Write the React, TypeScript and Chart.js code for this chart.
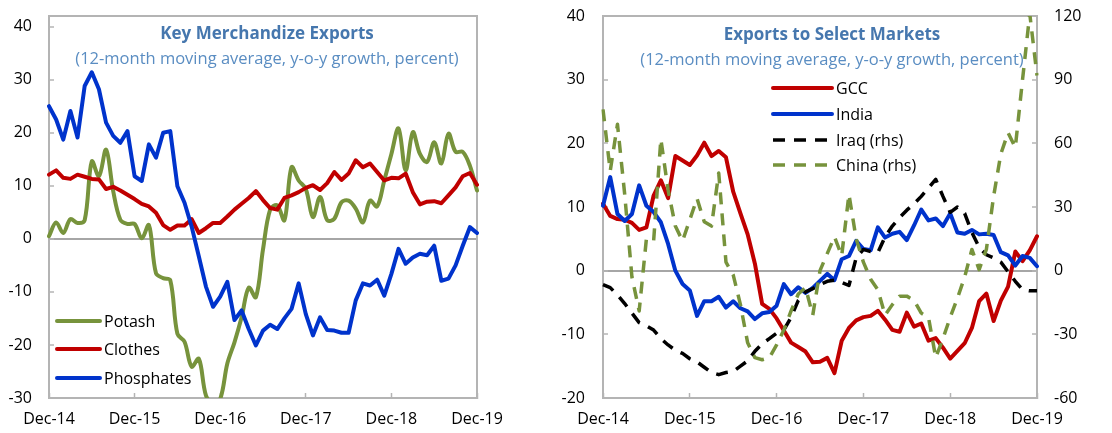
import React, { useEffect, useRef } from 'react';
import { Chart, registerables } from 'chart.js';

Chart.register(...registerables);

// ---------- categories ----------
const YEARS = ['15', '16', '17', '18', '19'];
const MONTH_NAMES = ['Jan', 'Feb', 'Mar', 'Apr', 'May', 'Jun', 'Jul', 'Aug', 'Sep', 'Oct', 'Nov', 'Dec'];
const MONTHS: string[] = ['Dec-14'];
YEARS.forEach((y) => MONTH_NAMES.forEach((m) => MONTHS.push(`${m}-${y}`)));

// ---------- left panel: Key Merchandize Exports ----------
const POTASH = [
  0.5, 3.1, 1.1, 3.7, 3.0, 3.5, 14.6, 11.8, 16.8, 9.0,
  3.6, 2.8, 2.8, 0.1, 2.6, -6.5, -7.4, -7.8, -17.9, -19.4,
  -24.1, -22.6, -29.5, -31, -30.2, -23.5, -19.5, -14.8, -9.2, -11,
  -2, 5.5, 6.3, 3.5, 13.5, 11, 9.4, 4.1, 7.9, 3.5,
  3.8, 6.9, 7.2, 5.7, 3.1, 7.2, 6.1, 11, 16, 20.8,
  12.9, 20.1, 16, 14.5, 18.2, 14.2, 19.8, 16.4, 16.4, 13.8, 9.1,
];
const CLOTHES = [
  12.1, 12.9, 11.5, 11.3, 12.1, 11.7, 11.3, 11.2, 9.4, 9.8,
  9.1, 8.3, 7.5, 6.6, 6.1, 4.9, 2.6, 1.7, 2.5, 2.5,
  3.7, 1.1, 2.0, 3.0, 3.0, 4.2, 5.5, 6.6, 7.7, 9.0,
  7.3, 5.8, 5.5, 7.7, 8.2, 8.8, 9.6, 10.1, 9.2, 10.5,
  12.6, 11.1, 12.3, 14.8, 13.5, 14.2, 12.6, 11.0, 11.5, 11.4,
  12.3, 8.8, 6.5, 7.0, 7.1, 6.7, 8.2, 9.7, 11.8, 12.4, 10.2,
];
const PHOSPHATES = [
  25, 22.5, 18.7, 24.1, 19.1, 28.8, 31.4, 28.2, 21.9, 19.4,
  18.1, 20.3, 11.8, 10.9, 17.8, 15.3, 20.0, 20.3, 9.9, 6.8,
  2.3, -3.3, -9.0, -12.8, -10.9, -8.1, -15.3, -13.5, -17, -20.1,
  -17.3, -16.2, -17, -15, -13.2, -8.4, -14.2, -18.2, -14.8, -17.2,
  -17.3, -17.7, -17.7, -11.6, -8.4, -8.8, -7.7, -10.7, -6.6, -1.9,
  -4.7, -3.5, -2.8, -3.1, -1.3, -7.9, -7.5, -5, -1.3, 2.2, 1.1,
];

// ---------- right panel: Exports to Select Markets ----------
const GCC = [
  10.5, 8.6, 8.1, 8.0, 7.5, 6.4, 6.8, 11.8, 14.2, 11.4,
  18.0, 17.3, 16.6, 18.1, 20.1, 18.0, 18.8, 17.8, 12.4, 9.0,
  5.7, 1.1, -5.2, -6.0, -7.5, -9.4, -11.3, -12.0, -12.7, -14.4,
  -14.3, -13.7, -16.1, -11.0, -9.0, -7.8, -7.3, -7.1, -6.3, -7.7,
  -9.3, -9.6, -6.6, -8.8, -8.3, -11.0, -10.6, -12.1, -13.8, -12.6,
  -11.4, -9.0, -4.8, -3.6, -7.9, -4.7, -2.5, 3.0, 1.5, 3.2, 5.4,
];
const INDIA = [
  10.2, 14.7, 8.9, 7.8, 8.9, 13.4, 10.2, 9.2, 7.6, 4.2,
  0.0, -2.1, -3.1, -7.1, -4.8, -4.8, -4.1, -5.8, -4.8, -5.9,
  -6.4, -7.6, -6.7, -6.5, -5.5, -2.1, -3.7, -2.6, -3.5, -2.7,
  -1.6, -0.5, -1.5, 1.8, 2.3, 4.7, 3.4, 3.2, 6.8, 5.2,
  5.8, 6.1, 4.8, 7.1, 9.6, 7.9, 8.2, 7.0, 9.0, 6.0,
  5.8, 6.4, 5.7, 5.8, 5.6, 2.9, 2.4, 0.8, 2.3, 2.0, 0.7,
];
const IRAQ = [
  -6.6, -8, -11.5, -15.5, -20, -24.5, -26, -28, -32, -35,
  -37.5, -39, -41.5, -43, -45.5, -48, -49, -48, -47.5, -45,
  -42.5, -38, -34.5, -32, -29.5, -28, -22, -14, -10, -8.5,
  -6.5, -5, -4.5, -5.5, -7, 6, 10, 9, 8.5, 16,
  21, 25, 28.5, 31.5, 35, 39, 43, 35, 27.5, 30,
  27, 18, 11, 7.5, 6, 4, -0.5, -5, -9, -9.5, -9.5,
];
const CHINA = [
  76, 47, 69, 36, -3, -19, 15, 14, 62, 38,
  21, 14, 24, 34, 23, 21, 46, 4, -2, -16,
  -34, -41, -42, -41, -35, -28, -19, -11, -8, -21,
  0, 8, 16, 7, 36, 15, 4, -4, -9, -21,
  -16, -12, -12, -14, -20, -22, -41, -32, -22, -13,
  -3, 10, 0.5, 10, 35, 55, 65, 58, 90, 121, 92,
];

// ---------- axis ranges ----------
const LEFT_Y_MIN = -30;
const LEFT_Y_MAX = 42;
const RIGHT_Y_MIN = -20;
const RIGHT_Y_MAX = 40;
const RHS_MIN = -60;
const RHS_MAX = 120;

const FONT = "'Open Sans', 'Noto Sans', 'DejaVu Sans', sans-serif";
const GREEN = '#77933C';
const RED = '#C00000';
const BLUE = '#0033CC';
const FRAME = '#B4B4B4';
const ZERO = '#A6A6A6';
const CLEAR = 'rgba(0,0,0,0)';

const isDec = (i: number) => !!MONTHS[i] && MONTHS[i].startsWith('Dec');

const frameBorder = { display: true, color: FRAME, width: 2 };

const panelPlugin = {
  id: 'panelText',
  afterDraw(chart: any, _args: any, opts: any) {
    const { ctx } = chart;
    ctx.save();
    ctx.textAlign = 'center';
    ctx.textBaseline = 'middle';
    ctx.fillStyle = '#4677AE';
    ctx.font = `bold 17px ${FONT}`;
    ctx.fillText(opts.title, opts.cx, opts.titleY);
    ctx.fillStyle = '#5A8DC2';
    ctx.font = `16.5px ${FONT}`;
    ctx.fillText(opts.subtitle, opts.cx, opts.subY);
    // legend
    ctx.textAlign = 'left';
    ctx.font = `16px ${FONT}`;
    chart.data.datasets.forEach((ds: any, i: number) => {
      const y = opts.legendY[i];
      ctx.beginPath();
      ctx.strokeStyle = ds.borderColor;
      ctx.lineWidth = ds.borderWidth;
      ctx.setLineDash(ds.borderDash || []);
      ctx.lineCap = ds.borderDash ? 'butt' : 'round';
      ctx.moveTo(opts.legendX0, y);
      ctx.lineTo(opts.legendX1, y);
      ctx.stroke();
      ctx.setLineDash([]);
      ctx.fillStyle = '#000';
      ctx.fillText(ds.label, opts.legendX1 + 4, y + 1);
    });
    ctx.restore();
  },
};

const tickFont = { family: FONT, size: 16 };

const fitVertical = (w: number) => (s: any) => {
  s.width = w;
  s.paddingTop = 0;
  s.paddingBottom = 0;
};
const fitHorizontal = (h: number) => (s: any) => {
  s.height = h;
  s.paddingLeft = 0;
  s.paddingRight = 0;
};

const xAxis = () => ({
  type: 'category',
  offset: false,
  grid: {
    display: true,
    drawOnChartArea: false,
    drawTicks: true,
    tickLength: -5,
    tickWidth: 1.5,
    tickColor: (c: any) => (c.tick && isDec(c.tick.value) ? FRAME : CLEAR),
  },
  border: frameBorder,
  ticks: {
    autoSkip: false,
    maxRotation: 0,
    minRotation: 0,
    padding: 17,
    color: '#000',
    font: tickFont,
    callback: (v: number) => (isDec(v) ? MONTHS[v] : ''),
  },
  afterFit: fitHorizontal(35),
});

// value-axis grid: zero line + top edge of the frame, inward tick marks on labelled ticks
const valueGrid = (top: number, drawArea: boolean) => ({
  display: true,
  drawOnChartArea: drawArea,
  drawTicks: true,
  tickLength: -5,
  tickWidth: 1.5,
  tickColor: (c: any) => (c.tick && c.tick.value % 10 === 0 ? FRAME : CLEAR),
  lineWidth: 2,
  color: (c: any) => {
    if (!c.tick) return CLEAR;
    if (c.tick.value === 0) return ZERO;
    if (c.tick.value === top) return FRAME;
    return CLEAR;
  },
});

const solid = (label: string, data: number[], color: string, order: number, tension = 0) => ({
  label,
  data,
  borderColor: color,
  backgroundColor: color,
  borderWidth: 4,
  pointRadius: 0,
  tension,
  borderJoinStyle: 'round',
  borderCapStyle: 'round',
  fill: false,
  order,
});

const dashed = (label: string, data: number[], color: string, order: number) => ({
  label,
  data,
  borderColor: color,
  backgroundColor: color,
  borderWidth: 3.5,
  borderDash: [12, 9],
  pointRadius: 0,
  tension: 0,
  borderJoinStyle: 'round',
  borderCapStyle: 'butt',
  fill: false,
  order,
  yAxisID: 'y1',
});

function leftConfig(): any {
  return {
    type: 'line',
    data: {
      labels: MONTHS,
      datasets: [
        solid('Potash', POTASH, GREEN, 3, 0.35),
        solid('Clothes', CLOTHES, RED, 2),
        solid('Phosphates', PHOSPHATES, BLUE, 1),
      ],
    },
    options: {
      responsive: false,
      animation: false,
      devicePixelRatio: 1,
      layout: { padding: { top: 16, right: 0, left: 0, bottom: 0 } },
      scales: {
        x: xAxis(),
        y: {
          position: 'left',
          min: LEFT_Y_MIN,
          max: LEFT_Y_MAX,
          grid: valueGrid(LEFT_Y_MAX, true),
          border: frameBorder,
          ticks: {
            stepSize: 10,
            includeBounds: false,
            padding: 22,
            color: '#000',
            font: tickFont,
            callback: (v: number) => (v % 10 === 0 ? String(v) : ''),
          },
          afterBuildTicks: (s: any) => {
            s.ticks = [...s.ticks, { value: LEFT_Y_MAX }];
          },
          afterFit: fitVertical(49),
        },
        yRight: {
          position: 'right',
          min: LEFT_Y_MIN,
          max: LEFT_Y_MAX,
          grid: { display: false },
          border: frameBorder,
          ticks: { display: false },
          afterFit: fitVertical(79),
        },
      },
      plugins: {
        legend: { display: false },
        tooltip: { enabled: false },
        panelText: {
          title: 'Key Merchandize Exports',
          subtitle: '(12-month moving average, y-o-y growth, percent)',
          cx: 267,
          titleY: 34,
          subY: 59,
          legendX0: 57,
          legendX1: 100,
          legendY: [321, 349, 378],
        },
      },
    },
    plugins: [panelPlugin],
  };
}

function rightConfig(): any {
  return {
    type: 'line',
    data: {
      labels: MONTHS,
      datasets: [
        { ...solid('GCC', GCC, RED, 4), yAxisID: 'y' },
        { ...solid('India', INDIA, BLUE, 3), yAxisID: 'y' },
        dashed('Iraq (rhs)', IRAQ, '#000000', 2),
        dashed('China (rhs)', CHINA, GREEN, 1),
      ],
    },
    options: {
      responsive: false,
      animation: false,
      devicePixelRatio: 1,
      layout: { padding: { top: 16, right: 0, left: 0, bottom: 0 } },
      scales: {
        x: xAxis(),
        y: {
          position: 'left',
          min: RIGHT_Y_MIN,
          max: RIGHT_Y_MAX,
          grid: valueGrid(RIGHT_Y_MAX, true),
          border: frameBorder,
          ticks: { stepSize: 10, padding: 23, color: '#000', font: tickFont },
          afterFit: fitVertical(47),
        },
        y1: {
          position: 'right',
          min: RHS_MIN,
          max: RHS_MAX,
          grid: valueGrid(RHS_MAX, false),
          border: frameBorder,
          ticks: { stepSize: 30, padding: 22, color: '#000', font: tickFont },
          afterFit: fitVertical(75),
        },
      },
      plugins: {
        legend: { display: false },
        tooltip: { enabled: false },
        panelText: {
          title: 'Exports to Select Markets',
          subtitle: '(12-month moving average, y-o-y growth, percent)',
          cx: 276,
          titleY: 35,
          subY: 60,
          legendX0: 217,
          legendX1: 276,
          legendY: [88, 114, 140, 165],
        },
      },
    },
    plugins: [panelPlugin],
  };
}

export default function App() {
  const leftRef = useRef<HTMLCanvasElement>(null);
  const rightRef = useRef<HTMLCanvasElement>(null);

  useEffect(() => {
    const c1 = new Chart(leftRef.current as HTMLCanvasElement, leftConfig());
    const c2 = new Chart(rightRef.current as HTMLCanvasElement, rightConfig());
    return () => {
      c1.destroy();
      c2.destroy();
    };
  }, []);

  return (
    <div style={{ position: 'absolute', left: 0, top: 0, width: 1112, height: 433, background: '#fff' }}>
      <canvas ref={leftRef} width={556} height={433} style={{ position: 'absolute', left: 0, top: 0, width: 556, height: 433 }} />
      <canvas ref={rightRef} width={556} height={433} style={{ position: 'absolute', left: 556, top: 0, width: 556, height: 433 }} />
    </div>
  );
}
